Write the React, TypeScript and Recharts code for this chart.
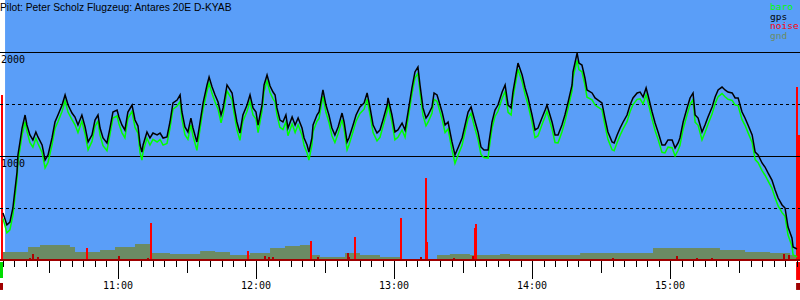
import React from 'react';
import { ComposedChart, Line, Area, Bar, XAxis, YAxis, ReferenceLine, ReferenceArea } from 'recharts';

const title = 'Pilot: Peter Scholz Flugzeug: Antares 20E D-KYAB';
const legendNames = ['baro', 'gps', 'noise', 'gnd'];
const legendColors = ['#00ff00', '#000000', '#ff0000', '#6b8b64'];
const hourLabels = ['11:00', '12:00', '13:00', '14:00', '15:00'];

// minutes since midnight
const trackTimes = [
  610.0, 611.7, 613.0, 614.3, 616.1, 616.5, 617.4, 618.3, 619.6, 620.4,
  621.7, 623.0, 624.3, 625.2, 627.0, 628.3, 629.6, 631.3, 632.6, 633.9,
  635.7, 637.0, 638.3, 640.0, 641.3, 642.6, 644.3, 645.7, 647.0, 648.7,
  650.0, 651.3, 652.2, 653.5, 655.2, 656.5, 657.8, 659.6, 660.4, 661.7,
  663.0, 664.3, 666.1, 667.4, 668.7, 669.6, 670.4, 670.9, 672.6, 673.9,
  675.2, 677.0, 678.3, 679.6, 681.3, 682.6, 683.9, 685.7, 687.0, 687.8,
  689.1, 690.4, 691.7, 692.6, 694.3, 695.7, 697.0, 698.7, 699.6, 700.9,
  702.2, 703.5, 704.8, 705.7, 707.4, 709.6, 710.4, 711.7, 713.0, 714.3,
  716.1, 717.4, 718.7, 720.0, 720.9, 722.6, 723.5, 724.8, 726.1, 727.4,
  728.3, 729.1, 730.4, 731.7, 733.0, 733.9, 735.7, 737.0, 738.3, 740.0,
  740.9, 742.2, 743.0, 744.3, 744.8, 746.5, 747.4, 748.7, 749.1, 750.4,
  751.7, 753.0, 754.3, 755.7, 757.4, 758.3, 759.6, 760.4, 762.2, 763.5,
  765.2, 767.0, 768.3, 769.6, 770.9, 772.6, 773.9, 775.2, 777.0, 777.4,
  779.1, 780.4, 781.7, 783.5, 784.8, 786.1, 787.8, 789.1, 790.4, 791.3,
  792.6, 793.9, 794.8, 796.5, 797.4, 798.7, 799.1, 800.9, 802.2, 803.5,
  805.2, 806.5, 807.8, 809.6, 810.9, 812.2, 813.5, 814.8, 816.5, 817.8,
  819.1, 820.9, 821.3, 822.6, 823.9, 825.2, 827.0, 828.3, 829.6, 830.9,
  831.7, 833.0, 833.9, 835.7, 837.0, 838.3, 840.0, 841.3, 842.6, 844.3,
  845.7, 846.5, 848.7, 850.0, 851.3, 853.0, 854.3, 855.7, 857.4, 857.8,
  859.6, 860.4, 861.7, 863.0, 863.9, 866.1, 867.4, 868.7, 870.4, 871.7,
  873.0, 874.8, 875.7, 877.0, 878.3, 879.6, 881.3, 882.6, 883.9, 885.7,
  887.0, 888.3, 889.6, 890.4, 892.2, 893.5, 894.8, 896.5, 897.8, 899.1,
  900.9, 902.2, 903.5, 904.3, 905.7, 907.4, 908.7, 910.0, 910.9, 912.2,
  913.9, 915.2, 916.5, 918.3, 919.6, 920.9, 922.6, 923.9, 925.2, 927.0,
  928.3, 929.6, 931.3, 932.6, 933.9, 935.7, 937.0, 938.3, 940.0, 941.3,
  942.6, 944.3, 945.7, 947.0, 948.7, 950.0, 951.3, 953.0, 953.5, 955.2,
];

const gpsAlt = [
  452, 337, 365, 500, 846, 1010, 1135, 1269, 1394, 1298,
  1202, 1154, 1231, 1183, 1106, 962, 1010, 1173, 1327, 1394,
  1490, 1587, 1490, 1413, 1375, 1298, 1394, 1279, 1135, 1202,
  1346, 1394, 1269, 1173, 1125, 1269, 1423, 1442, 1375, 1298,
  1250, 1423, 1490, 1346, 1288, 1106, 1038, 1106, 1231, 1173,
  1221, 1202, 1221, 1173, 1183, 1327, 1510, 1538, 1587, 1423,
  1279, 1231, 1365, 1269, 1135, 1327, 1510, 1683, 1760, 1663,
  1587, 1519, 1394, 1462, 1683, 1606, 1490, 1327, 1221, 1394,
  1490, 1587, 1462, 1423, 1298, 1490, 1683, 1779, 1673, 1615,
  1587, 1462, 1346, 1327, 1394, 1269, 1375, 1298, 1365, 1269,
  1173, 1106, 1038, 1173, 1298, 1394, 1423, 1587, 1635, 1490,
  1394, 1269, 1202, 1279, 1413, 1327, 1135, 1173, 1298, 1394,
  1471, 1510, 1606, 1462, 1298, 1221, 1250, 1346, 1490, 1558,
  1394, 1231, 1250, 1317, 1250, 1423, 1654, 1808, 1856, 1683,
  1462, 1365, 1394, 1471, 1606, 1587, 1558, 1423, 1298, 1327,
  1135, 1010, 1077, 1173, 1298, 1423, 1471, 1365, 1231, 1087,
  1058, 1058, 1135, 1327, 1442, 1490, 1615, 1683, 1490, 1462,
  1615, 1779, 1894, 1779, 1654, 1558, 1394, 1250, 1269, 1365,
  1442, 1490, 1327, 1202, 1202, 1298, 1394, 1519, 1683, 1808,
  1990, 1894, 1875, 1750, 1635, 1606, 1558, 1538, 1510, 1365,
  1231, 1135, 1125, 1202, 1269, 1327, 1394, 1490, 1558, 1606,
  1615, 1567, 1654, 1587, 1423, 1317, 1231, 1106, 1106, 1154,
  1154, 1077, 1125, 1173, 1327, 1462, 1558, 1606, 1394, 1365,
  1231, 1298, 1375, 1471, 1567, 1635, 1663, 1635, 1615, 1606,
  1558, 1558, 1423, 1365, 1298, 1202, 1038, 1010, 933, 894,
  837, 769, 673, 596, 529, 500, 317, 212, 125, 106,
];

const baroAlt = [
  400, 262, 290, 430, 780, 940, 1070, 1200, 1330, 1240,
  1130, 1085, 1170, 1120, 1035, 885, 940, 1105, 1265, 1330,
  1430, 1530, 1420, 1350, 1300, 1225, 1335, 1210, 1060, 1140,
  1285, 1335, 1200, 1100, 1050, 1205, 1365, 1385, 1310, 1225,
  1175, 1360, 1430, 1275, 1220, 1030, 960, 1040, 1170, 1105,
  1160, 1135, 1160, 1105, 1120, 1265, 1450, 1480, 1525, 1355,
  1205, 1160, 1300, 1195, 1055, 1265, 1450, 1625, 1700, 1600,
  1520, 1450, 1320, 1400, 1625, 1540, 1420, 1255, 1150, 1335,
  1430, 1525, 1395, 1355, 1225, 1430, 1625, 1720, 1610, 1550,
  1520, 1395, 1275, 1255, 1330, 1195, 1310, 1225, 1300, 1200,
  1100, 1030, 960, 1105, 1235, 1335, 1360, 1530, 1575, 1420,
  1325, 1195, 1130, 1215, 1350, 1260, 1060, 1105, 1235, 1335,
  1410, 1450, 1545, 1395, 1225, 1145, 1180, 1285, 1430, 1500,
  1325, 1155, 1180, 1250, 1180, 1360, 1595, 1750, 1795, 1615,
  1390, 1290, 1325, 1410, 1545, 1525, 1495, 1355, 1225, 1260,
  1060, 930, 1005, 1105, 1235, 1360, 1410, 1295, 1160, 1015,
  985, 980, 1060, 1265, 1380, 1430, 1555, 1620, 1420, 1395,
  1555, 1720, 1835, 1715, 1590, 1490, 1325, 1175, 1195, 1300,
  1380, 1430, 1260, 1130, 1125, 1230, 1330, 1460, 1625, 1750,
  1920, 1830, 1810, 1685, 1565, 1540, 1490, 1470, 1445, 1295,
  1160, 1060, 1050, 1130, 1200, 1260, 1330, 1425, 1495, 1545,
  1550, 1500, 1590, 1520, 1355, 1245, 1160, 1035, 1030, 1085,
  1080, 1000, 1055, 1100, 1260, 1395, 1495, 1545, 1325, 1295,
  1155, 1225, 1305, 1405, 1505, 1570, 1600, 1570, 1545, 1535,
  1490, 1485, 1350, 1295, 1225, 1130, 965, 935, 860, 815,
  760, 690, 595, 520, 455, 420, 240, 135, 50, 30,
];

const gndTimes = [
  610.0, 620.9, 626.1, 639.1, 641.3, 652.2, 658.7, 667.4, 673.9, 682.6,
  695.7, 702.2, 708.7, 717.4, 726.1, 732.6, 739.1, 743.5, 747.8, 758.7,
  765.2, 773.9, 782.6, 798.7, 804.3, 813.0, 826.1, 830.4, 860.9, 892.6,
  913.0, 921.7, 932.6, 943.5, 952.2, 956.5,
];
const gndAlt = [
  77, 125, 144, 125, 77, 96, 125, 154, 67, 58,
  87, 77, 48, 67, 115, 135, 144, 48, 29, 67,
  48, 29, 10, 48, 58, 48, 58, 48, 67, 115,
  115, 96, 77, 67, 48, 48,
];

const noiseTimes = [
  609.2, 621.3, 623.0, 625.2, 646.5, 660.0, 672.6, 673.9, 716.1, 723.5,
  725.2, 727.0, 743.5, 746.5, 759.6, 760.4, 763.0, 782.6, 791.3, 793.5,
  793.9, 805.7, 813.9, 814.8, 815.2, 874.8, 902.6, 911.3, 917.8, 949.1,
  951.7, 954.8, 955.7,
];
const noiseLevel = [
  1587, 20, 60, 30, 115, 40, 20, 356, 87, 40,
  25, 30, 183, 25, 67, 30, 221, 404, 30, 788,
  170, 20, 40, 308, 346, 15, 40, 20, 15, 60,
  50, 1663, 1200,
];

// markers below the time axis at takeoff / landing
const startMarkTimes = [608.7, 610.0];
const endMarkTimes = [954.8, 956.5];

const X0 = 608.7;
const X1 = 956.5;
const BG_START = 610.9;

type Row = { t: number; gps?: number; baro?: number; gnd?: number; noise?: number };
const rows: Row[] = [];
trackTimes.forEach((t, i) => rows.push({ t, gps: gpsAlt[i], baro: baroAlt[i] }));
gndTimes.forEach((t, i) => rows.push({ t, gnd: gndAlt[i] }));
noiseTimes.forEach((t, i) => rows.push({ t, noise: noiseLevel[i] }));
rows.sort((a, b) => a.t - b.t);

const fiveMinTicks: number[] = [];
for (let m = 610; m <= 955; m += 5) fiveMinTicks.push(m);

const MONO = 'DejaVu Sans Mono';

function TimeTick(props: any) {
  const { x, y, payload } = props;
  const v = payload.value as number;
  const m = Math.round(v) % 60;
  const len = m === 0 ? 18 : m === 30 ? 12 : 6;
  const px = Math.round(x) + 0.5;
  const hourIdx = Math.round(v / 60) - 11;
  return (
    <g>
      <line x1={px} x2={px} y1={y + 1} y2={y + 1 + len} stroke="#000" strokeWidth={1} shapeRendering="crispEdges" />
      {m === 0 && hourLabels[hourIdx] ? (
        <text x={x} y={y + 29} textAnchor="middle" fontFamily={MONO} fontSize={10} fill="#000">
          {hourLabels[hourIdx]}
        </text>
      ) : null}
    </g>
  );
}

function AltLabel(props: any) {
  const { viewBox, text } = props;
  return (
    <text x={(viewBox?.x ?? 0) + 1} y={(viewBox?.y ?? 0) + 11} fontFamily={MONO} fontSize={10} fill="#000">
      {text}
    </text>
  );
}

function NoiseBar(props: any) {
  const { x, y, height, payload } = props;
  if (!height || height <= 0 || payload?.noise == null) return <g />;
  const top = Math.round(y);
  const bottom = Math.round(y + height);
  const color = payload.noise > 70 ? '#ff0000' : '#b00000';
  return <rect x={Math.round(x)} y={top} width={2} height={bottom - top} fill={color} shapeRendering="crispEdges" />;
}

export default function App() {
  return (
    <div style={{ position: 'absolute', left: 0, top: 0, width: 800, height: 300, background: '#fff' }}>
      <ComposedChart width={800} height={300} data={rows} margin={{ top: 0, right: 0, bottom: 0, left: 0 }}>
        <XAxis
          type="number"
          dataKey="t"
          domain={[X0, X1]}
          allowDataOverflow
          ticks={fiveMinTicks}
          interval={0}
          height={40}
          tickSize={0}
          tickMargin={0}
          tickLine={false}
          axisLine={{ stroke: '#a00000', strokeWidth: 2 }}
          tick={<TimeTick />}
        />
        <YAxis type="number" domain={[0, 2500]} allowDataOverflow hide />
        <ReferenceArea x1={BG_START} x2={X1} y1={0} y2={2500} fill="#5a9ef8" fillOpacity={1} stroke="none" ifOverflow="hidden" />
        <ReferenceArea x1={startMarkTimes[0]} x2={startMarkTimes[1]} y1={-19} y2={-173} fill="#00dd00" fillOpacity={1} stroke="none" ifOverflow="visible" />
        <ReferenceArea x1={startMarkTimes[0]} x2={startMarkTimes[1]} y1={-221} y2={-288} fill="#a00000" fillOpacity={1} stroke="none" ifOverflow="visible" />
        <ReferenceArea x1={endMarkTimes[0]} x2={endMarkTimes[1]} y1={-19} y2={-192} fill="#ff0000" fillOpacity={1} stroke="none" ifOverflow="visible" />
        <ReferenceArea x1={endMarkTimes[0]} x2={endMarkTimes[1]} y1={-221} y2={-288} fill="#a00000" fillOpacity={1} stroke="none" ifOverflow="visible" />
        <ReferenceLine y={2000} stroke="#000" strokeWidth={1} shapeRendering="crispEdges" label={<AltLabel text="2000" />} />
        <ReferenceLine y={1500} stroke="#000" strokeWidth={1} strokeDasharray="3 3" shapeRendering="crispEdges" />
        <ReferenceLine y={1000} stroke="#000" strokeWidth={1} shapeRendering="crispEdges" label={<AltLabel text="1000" />} />
        <ReferenceLine y={500} stroke="#000" strokeWidth={1} strokeDasharray="3 3" shapeRendering="crispEdges" />
        <Area
          type="stepAfter"
          dataKey="gnd"
          connectNulls
          stroke="none"
          fill="#6b8b64"
          fillOpacity={1}
          isAnimationActive={false}
          dot={false}
          activeDot={false}
        />
        <Bar dataKey="noise" barSize={2} isAnimationActive={false} shape={<NoiseBar />} />
        <Line
          type="linear"
          dataKey="baro"
          connectNulls
          stroke="#00ff00"
          strokeWidth={1.5}
          dot={false}
          activeDot={false}
          isAnimationActive={false}
        />
        <Line
          type="linear"
          dataKey="gps"
          connectNulls
          stroke="#000000"
          strokeWidth={1.5}
          dot={false}
          activeDot={false}
          isAnimationActive={false}
        />
      </ComposedChart>
      <svg width={800} height={300} style={{ position: 'absolute', left: 0, top: 0, pointerEvents: 'none' }}>
        <text x={0} y={10.5} fontFamily="Liberation Sans" fontSize={10.3} fill="#000">
          {title}
        </text>
        {legendNames.map((n, i) => (
          <text key={n} x={770} y={10 + i * 9.5} fontFamily={MONO} fontSize={9.5} fill={legendColors[i]}>
            {n}
          </text>
        ))}
      </svg>
    </div>
  );
}
